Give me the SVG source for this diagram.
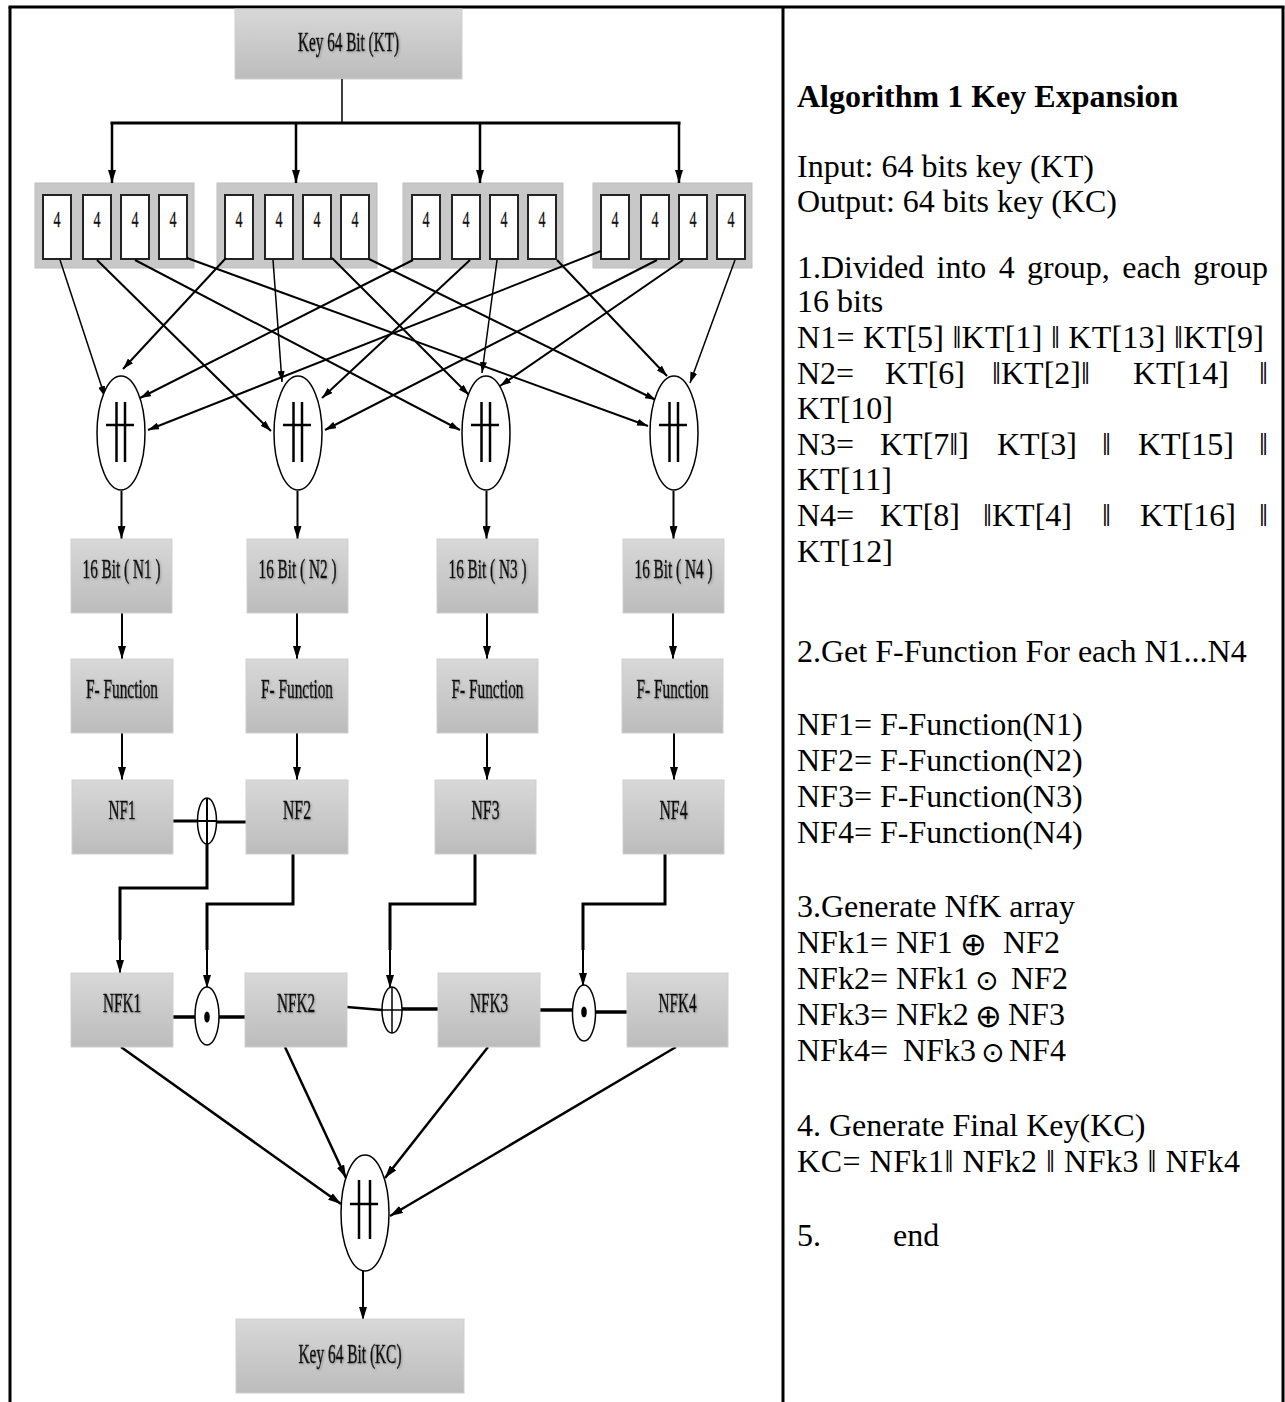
<svg xmlns="http://www.w3.org/2000/svg" width="1285" height="1402" viewBox="0 0 1285 1402">
<defs>
<linearGradient id="g" x1="0" y1="0" x2="0" y2="1">
<stop offset="0" stop-color="#d8d8d8"/>
<stop offset="1" stop-color="#bcbcbc"/>
</linearGradient>
<marker id="a" viewBox="0 0 13 8" markerWidth="13" markerHeight="8" refX="13" refY="4" orient="auto" markerUnits="userSpaceOnUse"><path d="M0,0 L13,4 L0,8 z" fill="#000"/></marker>
<marker id="s" viewBox="0 0 11 7" markerWidth="11" markerHeight="7" refX="11" refY="3.5" orient="auto" markerUnits="userSpaceOnUse"><path d="M0,0 L11,3.5 L0,7 z" fill="#000"/></marker>
<filter id="sh" x="-10%" y="-30%" width="120%" height="160%"><feDropShadow dx="1" dy="1" stdDeviation="0.8" flood-color="#666" flood-opacity="0.55"/></filter>
</defs>
<style>
.box{fill:url(#g);stroke:#cfcfcf;stroke-width:1}
.grp{fill:#c8c8c8;stroke:#bdbdbd;stroke-width:1}
.cell{fill:#fff;stroke:#222;stroke-width:2}
.lbl{font-family:"Liberation Serif","Times New Roman",serif;font-size:27px;fill:#111;stroke:#111;stroke-width:0.5;text-anchor:middle;filter:url(#sh)}
.c4{font-family:"Liberation Serif","Times New Roman",serif;font-size:24px;fill:#111;stroke:#111;stroke-width:0.3;text-anchor:middle}
.txt{font-family:"Liberation Serif","Times New Roman",serif;font-size:32px;fill:#000}
.sym{font-family:"DejaVu Sans",sans-serif;fill:#000}
.ln{fill:none;stroke:#000}
.ell{fill:#fff;stroke:#000;stroke-width:1.5}
.bar{stroke:#000;stroke-width:2.5;fill:none}
.frame{stroke:#000;stroke-width:3;fill:none}
</style>

<g id="frame">
<line class="frame" x1="8.5" y1="7" x2="1284.5" y2="7"/>
<line class="frame" x1="10" y1="7" x2="10" y2="1402"/>
<line class="frame" x1="783" y1="7" x2="783" y2="1402"/>
<line class="frame" x1="1283" y1="7" x2="1283" y2="1402"/>
</g>

<g id="key-kt">
<rect class="box" x="235" y="9" width="227" height="70"/>
<text class="lbl" x="348.5" y="51" textLength="101" lengthAdjust="spacingAndGlyphs">Key 64 Bit (KT)</text>
</g>

<g id="group1">
<rect class="grp" x="35" y="183" width="159" height="85"/>
<rect class="cell" x="43" y="195" width="28" height="64"/><text class="c4" x="57" y="227" textLength="7" lengthAdjust="spacingAndGlyphs">4</text>
<rect class="cell" x="83" y="195" width="28" height="64"/><text class="c4" x="97" y="227" textLength="7" lengthAdjust="spacingAndGlyphs">4</text>
<rect class="cell" x="121" y="195" width="28" height="64"/><text class="c4" x="135" y="227" textLength="7" lengthAdjust="spacingAndGlyphs">4</text>
<rect class="cell" x="159" y="195" width="28" height="64"/><text class="c4" x="173" y="227" textLength="7" lengthAdjust="spacingAndGlyphs">4</text>
</g>
<g id="group2">
<rect class="grp" x="217" y="183" width="160" height="85"/>
<rect class="cell" x="225" y="195" width="28" height="64"/><text class="c4" x="239" y="227" textLength="7" lengthAdjust="spacingAndGlyphs">4</text>
<rect class="cell" x="265" y="195" width="28" height="64"/><text class="c4" x="279" y="227" textLength="7" lengthAdjust="spacingAndGlyphs">4</text>
<rect class="cell" x="303" y="195" width="28" height="64"/><text class="c4" x="317" y="227" textLength="7" lengthAdjust="spacingAndGlyphs">4</text>
<rect class="cell" x="341" y="195" width="28" height="64"/><text class="c4" x="355" y="227" textLength="7" lengthAdjust="spacingAndGlyphs">4</text>
</g>
<g id="group3">
<rect class="grp" x="403" y="183" width="160" height="85"/>
<rect class="cell" x="412" y="195" width="28" height="64"/><text class="c4" x="426" y="227" textLength="7" lengthAdjust="spacingAndGlyphs">4</text>
<rect class="cell" x="452" y="195" width="28" height="64"/><text class="c4" x="466" y="227" textLength="7" lengthAdjust="spacingAndGlyphs">4</text>
<rect class="cell" x="490" y="195" width="28" height="64"/><text class="c4" x="504" y="227" textLength="7" lengthAdjust="spacingAndGlyphs">4</text>
<rect class="cell" x="528" y="195" width="28" height="64"/><text class="c4" x="542" y="227" textLength="7" lengthAdjust="spacingAndGlyphs">4</text>
</g>
<g id="group4">
<rect class="grp" x="593" y="183" width="159" height="85"/>
<rect class="cell" x="601" y="195" width="28" height="64"/><text class="c4" x="615" y="227" textLength="7" lengthAdjust="spacingAndGlyphs">4</text>
<rect class="cell" x="641" y="195" width="28" height="64"/><text class="c4" x="655" y="227" textLength="7" lengthAdjust="spacingAndGlyphs">4</text>
<rect class="cell" x="679" y="195" width="28" height="64"/><text class="c4" x="693" y="227" textLength="7" lengthAdjust="spacingAndGlyphs">4</text>
<rect class="cell" x="717" y="195" width="28" height="64"/><text class="c4" x="731" y="227" textLength="7" lengthAdjust="spacingAndGlyphs">4</text>
</g>

<g id="connectors">
<line class="ln" stroke-width="1.5" x1="342" y1="79" x2="342" y2="123"/>
<line class="ln" stroke-width="3" x1="110.5" y1="123" x2="680.5" y2="123"/>
<line class="ln" stroke-width="2.5" x1="112" y1="123" x2="112" y2="183" marker-end="url(#a)"/>
<line class="ln" stroke-width="2.5" x1="296" y1="123" x2="296" y2="183" marker-end="url(#a)"/>
<line class="ln" stroke-width="2.5" x1="480" y1="123" x2="480" y2="183" marker-end="url(#a)"/>
<line class="ln" stroke-width="2.5" x1="679" y1="123" x2="679" y2="183" marker-end="url(#a)"/>
<line class="ln" stroke-width="1.5" x1="60" y1="260" x2="105" y2="397" marker-end="url(#s)"/>
<line class="ln" stroke-width="2" x1="226" y1="258" x2="123" y2="369" marker-end="url(#s)"/>
<line class="ln" stroke-width="2" x1="413" y1="260" x2="140" y2="398" marker-end="url(#s)"/>
<line class="ln" stroke-width="2" x1="601" y1="251" x2="148" y2="430" marker-end="url(#s)"/>
<line class="ln" stroke-width="2" x1="97" y1="260" x2="271" y2="431" marker-end="url(#s)"/>
<line class="ln" stroke-width="1.5" x1="273" y1="260" x2="282" y2="382" marker-end="url(#s)"/>
<line class="ln" stroke-width="2" x1="470" y1="260" x2="322" y2="398" marker-end="url(#s)"/>
<line class="ln" stroke-width="2" x1="657" y1="260" x2="325" y2="430" marker-end="url(#s)"/>
<line class="ln" stroke-width="2" x1="135" y1="260" x2="460" y2="430" marker-end="url(#s)"/>
<line class="ln" stroke-width="2" x1="332" y1="258" x2="469" y2="395" marker-end="url(#s)"/>
<line class="ln" stroke-width="1.5" x1="497" y1="260" x2="482" y2="373" marker-end="url(#s)"/>
<line class="ln" stroke-width="2" x1="683" y1="260" x2="500" y2="386" marker-end="url(#s)"/>
<line class="ln" stroke-width="2" x1="187" y1="258" x2="648" y2="426" marker-end="url(#s)"/>
<line class="ln" stroke-width="2" x1="369" y1="259" x2="656" y2="400" marker-end="url(#s)"/>
<line class="ln" stroke-width="2" x1="557" y1="260" x2="667" y2="376" marker-end="url(#s)"/>
<line class="ln" stroke-width="1.5" x1="735" y1="260" x2="690" y2="383" marker-end="url(#s)"/>
<line class="ln" stroke-width="2" x1="121.5" y1="491" x2="121.5" y2="539" marker-end="url(#a)"/>
<line class="ln" stroke-width="2" x1="297.5" y1="491" x2="297.5" y2="539" marker-end="url(#a)"/>
<line class="ln" stroke-width="2" x1="486.5" y1="491" x2="486.5" y2="539" marker-end="url(#a)"/>
<line class="ln" stroke-width="2" x1="673.5" y1="491" x2="673.5" y2="539" marker-end="url(#a)"/>
<line class="ln" stroke-width="2" x1="122" y1="613" x2="122" y2="659" marker-end="url(#a)"/>
<line class="ln" stroke-width="2" x1="297" y1="613" x2="297" y2="659" marker-end="url(#a)"/>
<line class="ln" stroke-width="2" x1="487" y1="613" x2="487" y2="659" marker-end="url(#a)"/>
<line class="ln" stroke-width="2" x1="673" y1="613" x2="673" y2="659" marker-end="url(#a)"/>
<line class="ln" stroke-width="2" x1="122" y1="733" x2="122" y2="780" marker-end="url(#a)"/>
<line class="ln" stroke-width="2" x1="297" y1="733" x2="297" y2="780" marker-end="url(#a)"/>
<line class="ln" stroke-width="2" x1="487" y1="733" x2="487" y2="780" marker-end="url(#a)"/>
<line class="ln" stroke-width="2" x1="674" y1="733" x2="674" y2="780" marker-end="url(#a)"/>
<line class="ln" stroke-width="3" x1="173" y1="821" x2="207" y2="821"/>
<line class="ln" stroke-width="3" x1="207" y1="822" x2="246" y2="822"/>
<path class="ln" stroke-width="3" d="M207,844 V888 H120 V940"/>
<line class="ln" stroke-width="2" x1="120" y1="938" x2="120" y2="973" marker-end="url(#a)"/>
<path class="ln" stroke-width="3" d="M293,854 V904 H207 V950"/>
<line class="ln" stroke-width="2" x1="207" y1="948" x2="207" y2="988" marker-end="url(#a)"/>
<path class="ln" stroke-width="3" d="M475,854 V904 H390 V950"/>
<line class="ln" stroke-width="2" x1="390" y1="948" x2="390" y2="988" marker-end="url(#a)"/>
<path class="ln" stroke-width="3" d="M665,854 V904 H583 V950"/>
<line class="ln" stroke-width="2" x1="583" y1="948" x2="583" y2="986" marker-end="url(#a)"/>
<line class="ln" stroke-width="3.5" x1="173" y1="1017" x2="195" y2="1017"/>
<line class="ln" stroke-width="3.5" x1="219" y1="1017" x2="245" y2="1017"/>
<line class="ln" stroke-width="2.5" x1="347" y1="1007" x2="382" y2="1010"/>
<line class="ln" stroke-width="3.5" x1="402" y1="1009" x2="438" y2="1009"/>
<line class="ln" stroke-width="3.5" x1="540" y1="1010" x2="572" y2="1010"/>
<line class="ln" stroke-width="3.5" x1="595" y1="1012" x2="627" y2="1012"/>
<line class="ln" stroke-width="2.5" x1="121" y1="1047" x2="341" y2="1204" marker-end="url(#a)"/>
<line class="ln" stroke-width="2.5" x1="285" y1="1047" x2="346" y2="1178" marker-end="url(#a)"/>
<line class="ln" stroke-width="2.5" x1="488" y1="1047" x2="385" y2="1178" marker-end="url(#a)"/>
<line class="ln" stroke-width="2.5" x1="676" y1="1047" x2="390" y2="1216" marker-end="url(#a)"/>
<line class="ln" stroke-width="2" x1="363" y1="1271" x2="363" y2="1320" marker-end="url(#a)"/>
</g>

<g id="concat1">
<ellipse class="ell" cx="121" cy="433" rx="24" ry="57"/>
<line class="bar" x1="116.5" y1="402" x2="116.5" y2="462"/><line class="bar" x1="125" y1="402" x2="125" y2="462"/><line class="bar" x1="106" y1="425" x2="134" y2="425" stroke-width="3"/>
</g>
<g id="concat2">
<ellipse class="ell" cx="298" cy="433" rx="24" ry="57"/>
<line class="bar" x1="293.5" y1="402" x2="293.5" y2="462"/><line class="bar" x1="302" y1="402" x2="302" y2="462"/><line class="bar" x1="283" y1="425" x2="311" y2="425" stroke-width="3"/>
</g>
<g id="concat3">
<ellipse class="ell" cx="486" cy="433" rx="24" ry="57"/>
<line class="bar" x1="481.5" y1="402" x2="481.5" y2="462"/><line class="bar" x1="490" y1="402" x2="490" y2="462"/><line class="bar" x1="471" y1="425" x2="499" y2="425" stroke-width="3"/>
</g>
<g id="concat4">
<ellipse class="ell" cx="674" cy="433" rx="24" ry="57"/>
<line class="bar" x1="669.5" y1="402" x2="669.5" y2="462"/><line class="bar" x1="678" y1="402" x2="678" y2="462"/><line class="bar" x1="659" y1="425" x2="687" y2="425" stroke-width="3"/>
</g>

<g id="n1"><rect class="box" x="71" y="539" width="101" height="74"/><text class="lbl" x="121.5" y="578" textLength="78" lengthAdjust="spacingAndGlyphs">16 Bit ( N1 )</text></g>
<g id="n2"><rect class="box" x="247" y="539" width="101" height="74"/><text class="lbl" x="297.5" y="578" textLength="78" lengthAdjust="spacingAndGlyphs">16 Bit ( N2 )</text></g>
<g id="n3"><rect class="box" x="437" y="539" width="101" height="74"/><text class="lbl" x="487.5" y="578" textLength="78" lengthAdjust="spacingAndGlyphs">16 Bit ( N3 )</text></g>
<g id="n4"><rect class="box" x="623" y="539" width="101" height="74"/><text class="lbl" x="673.5" y="578" textLength="78" lengthAdjust="spacingAndGlyphs">16 Bit ( N4 )</text></g>

<g id="f1"><rect class="box" x="71" y="659" width="102" height="74"/><text class="lbl" x="122" y="698" textLength="72" lengthAdjust="spacingAndGlyphs">F- Function</text></g>
<g id="f2"><rect class="box" x="246" y="659" width="102" height="74"/><text class="lbl" x="297" y="698" textLength="72" lengthAdjust="spacingAndGlyphs">F- Function</text></g>
<g id="f3"><rect class="box" x="437" y="659" width="101" height="74"/><text class="lbl" x="487.5" y="698" textLength="72" lengthAdjust="spacingAndGlyphs">F- Function</text></g>
<g id="f4"><rect class="box" x="622" y="659" width="101" height="74"/><text class="lbl" x="672.5" y="698" textLength="72" lengthAdjust="spacingAndGlyphs">F- Function</text></g>

<g id="nf1"><rect class="box" x="72" y="780" width="101" height="74"/><text class="lbl" x="122" y="819" textLength="27" lengthAdjust="spacingAndGlyphs">NF1</text></g>
<g id="nf2"><rect class="box" x="246" y="780" width="102" height="74"/><text class="lbl" x="297" y="819" textLength="28" lengthAdjust="spacingAndGlyphs">NF2</text></g>
<g id="nf3"><rect class="box" x="435" y="780" width="101" height="74"/><text class="lbl" x="485.5" y="819" textLength="28" lengthAdjust="spacingAndGlyphs">NF3</text></g>
<g id="nf4"><rect class="box" x="623" y="780" width="101" height="74"/><text class="lbl" x="673.5" y="819" textLength="28" lengthAdjust="spacingAndGlyphs">NF4</text></g>

<g id="xor1">
<ellipse class="ell" cx="207" cy="821" rx="9.5" ry="23"/>
<line class="ln" stroke-width="2" x1="207" y1="798" x2="207" y2="844"/>
<line class="ln" stroke-width="2" x1="197.5" y1="821" x2="216.5" y2="821"/>
</g>

<g id="nfk1"><rect class="box" x="71" y="973" width="102" height="74"/><text class="lbl" x="122" y="1012" textLength="38" lengthAdjust="spacingAndGlyphs">NFK1</text></g>
<g id="nfk2"><rect class="box" x="245" y="973" width="102" height="74"/><text class="lbl" x="296" y="1012" textLength="38" lengthAdjust="spacingAndGlyphs">NFK2</text></g>
<g id="nfk3"><rect class="box" x="438" y="973" width="102" height="74"/><text class="lbl" x="489" y="1012" textLength="38" lengthAdjust="spacingAndGlyphs">NFK3</text></g>
<g id="nfk4"><rect class="box" x="627" y="973" width="101" height="74"/><text class="lbl" x="677.5" y="1012" textLength="38" lengthAdjust="spacingAndGlyphs">NFK4</text></g>

<g id="dot1">
<ellipse class="ell" cx="207" cy="1016" rx="12" ry="29"/>
<ellipse cx="207" cy="1017" rx="2.8" ry="5.5" fill="#000"/>
</g>
<g id="xor2">
<ellipse class="ell" cx="392" cy="1010" rx="10" ry="23"/>
<line class="ln" stroke-width="1.5" x1="392" y1="987" x2="392" y2="1033"/>
<line class="ln" stroke-width="1.5" x1="382" y1="1010" x2="402" y2="1010"/>
</g>
<g id="dot2">
<ellipse class="ell" cx="584" cy="1013" rx="11.5" ry="28"/>
<ellipse cx="584" cy="1012" rx="2.8" ry="5.5" fill="#000"/>
</g>

<g id="concat-final">
<ellipse class="ell" cx="365" cy="1213" rx="24" ry="58"/>
<line class="bar" x1="359" y1="1180" x2="359" y2="1239"/><line class="bar" x1="370" y1="1180" x2="370" y2="1239"/><line class="bar" x1="350" y1="1204" x2="378" y2="1204" stroke-width="3"/>
</g>

<g id="key-kc">
<rect class="box" x="236" y="1319" width="228" height="74"/>
<text class="lbl" x="350" y="1363" textLength="103" lengthAdjust="spacingAndGlyphs">Key 64 Bit (KC)</text>
</g>

<g id="algorithm">
<text class="txt" x="797" y="107" font-weight="bold">Algorithm 1 Key Expansion</text>
<text class="txt" x="797" y="177">Input: 64 bits key (KT)</text>
<text class="txt" x="797" y="212">Output: 64 bits key (KC)</text>
<text class="txt" y="278"><tspan x="797">1.Divided</tspan><tspan x="936.5">into</tspan><tspan x="998.7">4</tspan><tspan x="1027.1">group,</tspan><tspan x="1122.2">each</tspan><tspan x="1268" text-anchor="end">group</tspan></text>
<text class="txt" x="797" y="312">16 bits</text>
<text class="txt" x="797" y="348" textLength="467" lengthAdjust="spacing">N1= KT[5] ‖KT[1] ‖ KT[13] ‖KT[9]</text>
<text class="txt" y="384"><tspan x="797">N2=</tspan><tspan x="885">KT[6]</tspan><tspan x="992">‖KT[2]‖</tspan><tspan x="1133">KT[14]</tspan><tspan x="1268" text-anchor="end">‖</tspan></text>
<text class="txt" x="797" y="419">KT[10]</text>
<text class="txt" y="455"><tspan x="797">N3=</tspan><tspan x="880">KT[7‖]</tspan><tspan x="997">KT[3]</tspan><tspan x="1102">‖</tspan><tspan x="1138">KT[15]</tspan><tspan x="1268" text-anchor="end">‖</tspan></text>
<text class="txt" x="797" y="490">KT[11]</text>
<text class="txt" y="526"><tspan x="797">N4=</tspan><tspan x="880">KT[8]</tspan><tspan x="983">‖KT[4]</tspan><tspan x="1102">‖</tspan><tspan x="1140">KT[16]</tspan><tspan x="1268" text-anchor="end">‖</tspan></text>
<text class="txt" x="797" y="562">KT[12]</text>
<text class="txt" x="797" y="662">2.Get F-Function For each N1...N4</text>
<text class="txt" x="797" y="735">NF1= F-Function(N1)</text>
<text class="txt" x="797" y="771">NF2= F-Function(N2)</text>
<text class="txt" x="797" y="807">NF3= F-Function(N3)</text>
<text class="txt" x="797" y="843">NF4= F-Function(N4)</text>
<text class="txt" x="797" y="917">3.Generate NfK array</text>
<text class="txt" x="797" y="953">NFk1= NF1</text><text class="sym" x="960" y="955" font-size="32">⊕</text><text class="txt" x="1003" y="953">NF2</text>
<text class="txt" x="797" y="989">NFk2= NFk1</text><text class="sym" x="975" y="990" font-size="28">⊙</text><text class="txt" x="1011" y="989">NF2</text>
<text class="txt" x="797" y="1025">NFk3= NFk2</text><text class="sym" x="975" y="1027" font-size="32">⊕</text><text class="txt" x="1008" y="1025">NF3</text>
<text class="txt" x="797" y="1061">NFk4=</text><text class="txt" x="903" y="1061">NFk3</text><text class="sym" x="981" y="1062" font-size="28">⊙</text><text class="txt" x="1009" y="1061">NF4</text>
<text class="txt" x="797" y="1136">4. Generate Final Key(KC)</text>
<text class="txt" x="797" y="1172" textLength="443" lengthAdjust="spacing">KC= NFk1‖ NFk2 ‖ NFk3 ‖ NFk4</text>
<text class="txt" x="797" y="1246">5.</text><text class="txt" x="893" y="1246">end</text>
</g>
</svg>
